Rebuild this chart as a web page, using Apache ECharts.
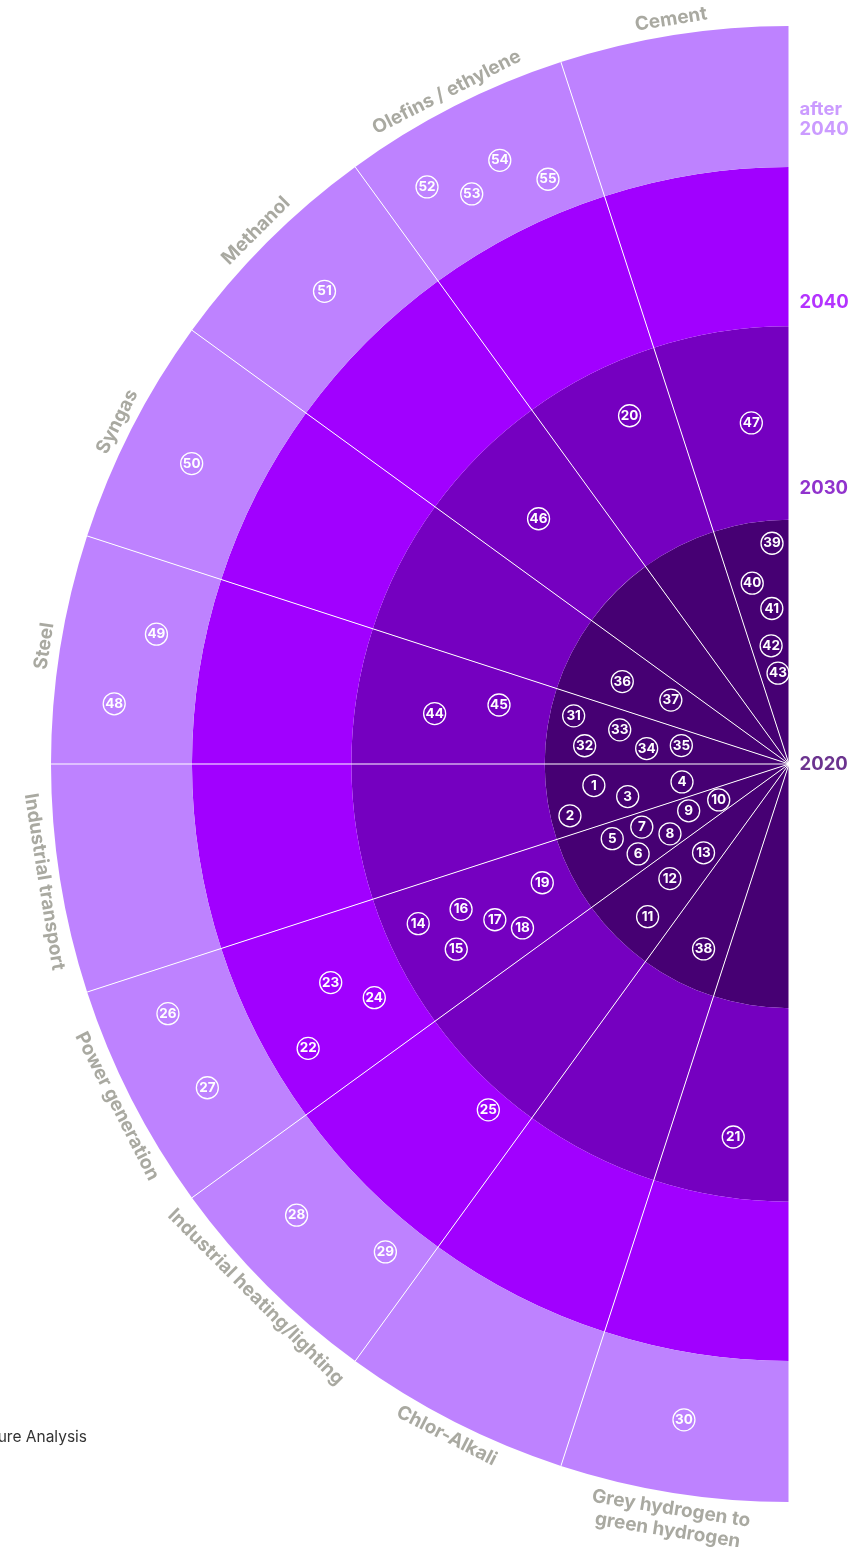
<!DOCTYPE html>
<html>
<head>
<meta charset="utf-8">
<script src="https://cdn.jsdelivr.net/npm/echarts@6/dist/echarts.min.js"></script>
<style>
html,body{margin:0;padding:0;background:#fff;}
#c{width:866px;height:1547px;}
</style>
</head>
<body>
<div id="c"></div>
<script>
// ---------------- DATA ----------------
const sectors = ['Cement', 'Olefins / ethylene', 'Methanol', 'Syngas', 'Steel',
  'Industrial transport', 'Power generation', 'Industrial heating/lighting',
  'Chlor-Alkali', 'Grey hydrogen to\ngreen hydrogen'];
const rings = ['2020', '2030', '2040', 'after\n2040'];
// outer edge of each time ring on a 0–100 radial scale
const ringOuter = [33.1, 59.3, 80.9, 100];

const pointNumbers = [1,2,3,4,5,6,7,8,9,10,11,12,13,14,15,16,17,18,19,20,
  21,22,23,24,25,26,27,28,29,30,31,32,33,34,35,36,37,38,39,40,
  41,42,43,44,45,46,47,48,49,50,51,52,53,54,55];
// angle in degrees, 0 = top, increasing counter-clockwise
const pointAngles = [96.3,103.3,101.4,99.5,112.9,120.8,113.2,120.4,115.0,117.1,
  137.2,133.9,136.1,113.3,119.1,113.9,117.9,121.6,115.7,24.6,
  171.5,120.6,115.5,119.4,139.0,111.9,119.1,132.5,140.4,170.9,
  77.4,84.9,78.6,83.8,80.3,63.7,61.6,155.2,4.4,11.5,
  6.3,8.6,6.9,81.9,78.5,45.6,6.3,84.9,78.4,63.3,
  44.5,32.1,29.1,25.6,22.4];
// radius on the 0–100 radial scale
const pointRadii = [26.6,30.5,22.3,14.7,26.0,23.8,21.7,18.7,15.0,10.7,
  28.2,22.4,16.7,54.7,51.6,48.6,45.1,42.4,37.1,51.9,
  51.1,75.7,68.8,64.5,62.1,90.7,90.2,90.5,85.8,90.0,
  29.9,27.8,23.4,19.4,14.8,25.2,18.2,27.6,30.0,25.0,
  21.2,16.2,12.4,48.5,40.1,47.5,46.5,91.8,87.5,90.6,
  89.8,92.3,88.4,90.7,85.7];

const sourceText = 'Source: Accenture Analysis';

// ---------------- LAYOUT / STYLE ----------------
const CX = 789, CY = 764, OUTER_PX = 738;
const PX_PER_UNIT = OUTER_PX / 100;
const LABEL_GAP_PX = 5;
const YEAR_LABEL_R = [0, 37.3, 62.5, 87.4];
const RING_COLORS = ['#460073', '#7500c0', '#a100ff', '#be82ff'];
const GRAY = '#939389';
const FONT = 'Inter, "Noto Sans", sans-serif';
const SPAN = 180 / sectors.length;

const angleCats = sectors.concat(sectors.map((s, i) => 'pad' + i));

const chart = echarts.init(document.getElementById('c'), null, {renderer: 'canvas', width: 866, height: 1547});

const ringSeries = rings.map((name, k) => ({
  type: 'bar',
  coordinateSystem: 'polar',
  polarIndex: 0,
  stack: 'rings',
  name: name,
  barCategoryGap: '0%',
  silent: true,
  z: 2,
  itemStyle: {color: RING_COLORS[k]},
  data: sectors.map(() => +(ringOuter[k] - (k ? ringOuter[k - 1] : 0)).toFixed(3))
}));

const option = {
  animation: false,
  backgroundColor: '#fff',
  polar: [
    {center: [CX, CY], radius: OUTER_PX},
    {center: [CX, CY], radius: OUTER_PX}
  ],
  angleAxis: [
    {polarIndex: 0, type: 'category', data: angleCats, startAngle: 90, clockwise: false, show: false},
    {polarIndex: 1, type: 'value', min: 0, max: 360, interval: SPAN, startAngle: 90, clockwise: false,
      z: 10,
      axisLine: {show: false}, axisTick: {show: false}, axisLabel: {show: false},
      splitLine: {show: true, lineStyle: {color: '#ffffff', width: 1}}}
  ],
  radiusAxis: [
    {polarIndex: 0, type: 'value', min: 0, max: 100, show: false},
    {polarIndex: 1, type: 'value', min: 0, max: 100, show: false}
  ],
  series: ringSeries.concat([
    {
      type: 'scatter', coordinateSystem: 'polar', polarIndex: 1, z: 20, silent: true, clip: false,
      symbol: 'circle', symbolSize: 22,
      itemStyle: {color: 'rgba(0,0,0,0)', borderColor: '#ffffff', borderWidth: 1.3, opacity: 1},
      label: {show: true, position: 'inside', formatter: p => p.value[2], color: '#ffffff',
        fontSize: 13.5, fontWeight: 'bold', fontFamily: FONT},
      emphasis: {disabled: true},
      data: pointNumbers.map((n, i) => [pointRadii[i], pointAngles[i], n])
    },
    {
      type: 'scatter', coordinateSystem: 'polar', polarIndex: 1, z: 20, silent: true, clip: false,
      symbol: 'circle', symbolSize: 1,
      itemStyle: {color: 'rgba(0,0,0,0)'},
      label: {show: true, position: 'inside', formatter: p => p.name, color: GRAY,
        fontSize: 19, fontWeight: 'bold', fontFamily: FONT, lineHeight: 22, align: 'center'},
      emphasis: {disabled: true},
      data: sectors.map((s, i) => {
        const a = (i + 0.5) * SPAN;
        const upper = a < 90;
        return {
          name: s,
          value: [100 + LABEL_GAP_PX / PX_PER_UNIT, a],
          label: {rotate: upper ? a : a - 180, verticalAlign: upper ? 'bottom' : 'top'}
        };
      })
    },
    {
      type: 'scatter', coordinateSystem: 'polar', polarIndex: 1, z: 20, silent: true, clip: false,
      symbol: 'circle', symbolSize: 1,
      itemStyle: {color: 'rgba(0,0,0,0)'},
      label: {show: true, position: 'right', distance: 10, formatter: p => p.name,
        fontSize: 18.5, fontWeight: 'bold', fontFamily: FONT, lineHeight: 20, align: 'left', verticalAlign: 'middle'},
      emphasis: {disabled: true},
      data: rings.map((r, k) => ({name: r, value: [YEAR_LABEL_R[k], 0], label: {color: RING_COLORS[k]}}))
    }
  ]),
  graphic: [{
    type: 'text', x: 87, y: 1437, z: 30, silent: true,
    style: {text: sourceText, fill: '#333333', font: '15.5px ' + FONT,
      textAlign: 'right', textVerticalAlign: 'middle', align: 'right', verticalAlign: 'middle'}
  }]
};
chart.setOption(option);
</script>
</body>
</html>
